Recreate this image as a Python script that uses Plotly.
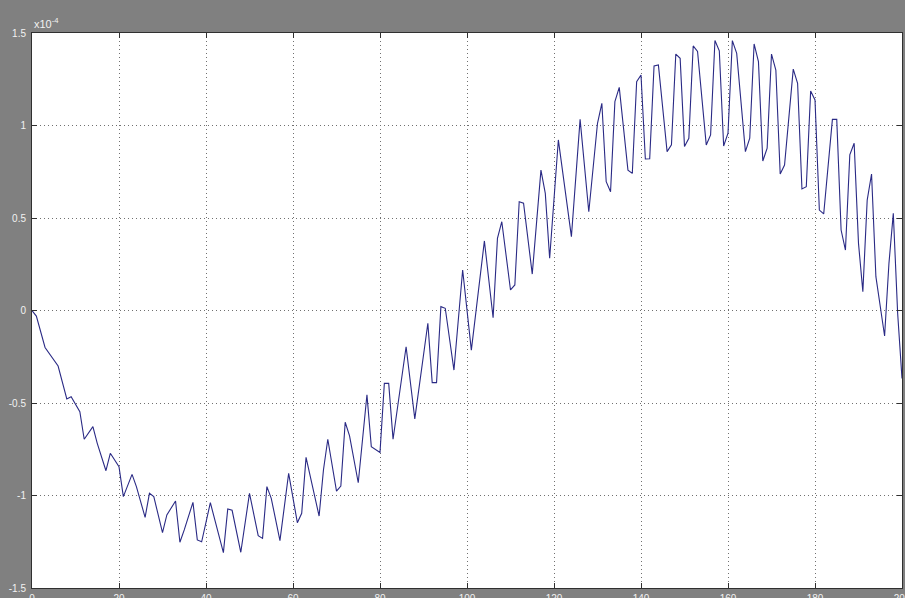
import plotly.graph_objects as go

# Sample index (x) and signal value in units of 1e-4 (y)
x_vals = [0, 1, 3, 6, 8, 9, 11, 12, 14, 15, 17, 18, 20, 21, 23, 24, 26, 27, 28, 30,
          31, 33, 34, 35, 37, 38, 39, 41, 44, 45, 46, 48, 50, 52, 53, 54, 55, 57, 59, 61,
          62, 63, 66, 67, 68, 70, 71, 72, 73, 75, 77, 78, 80, 81, 82, 83, 86, 88, 91, 92,
          93, 94, 95, 97, 99, 101, 104, 106, 107, 108, 110, 111, 112, 113, 115, 117, 118, 119, 121, 124,
          126, 128, 130, 131, 132, 133, 134, 135, 137, 138, 139, 140, 141, 142, 143, 144, 146, 147, 148, 149,
          150, 151, 152, 153, 155, 156, 157, 158, 159, 160, 161, 162, 164, 165, 166, 167, 168, 169, 170, 171,
          172, 173, 175, 176, 177, 178, 179, 180, 181, 182, 184, 185, 186, 187, 188, 189, 190, 191, 192, 193,
          194, 196, 197, 198, 199, 200]
y_vals = [0.0, -0.03, -0.20, -0.30, -0.478, -0.466, -0.547, -0.696, -0.628, -0.718, -0.866, -0.772, -0.844, -1.006, -0.886, -0.952, -1.118, -0.988, -1.006, -1.201,
          -1.105, -1.03, -1.253, -1.186, -1.037, -1.24, -1.25, -1.039, -1.309, -1.073, -1.08, -1.307, -0.988, -1.217, -1.232, -0.952, -1.015, -1.244, -0.880, -1.147,
          -1.096, -0.794, -1.111, -0.862, -0.696, -0.976, -0.949, -0.604, -0.678, -0.931, -0.455, -0.736, -0.767, -0.394, -0.394, -0.696, -0.196, -0.586, -0.069, -0.39,
          -0.39, 0.021, 0.012, -0.322, 0.219, -0.214, 0.376, -0.039, 0.39, 0.48, 0.111, 0.138, 0.588, 0.58, 0.197, 0.759, 0.633, 0.282, 0.922, 0.399,
          1.033, 0.534, 1.012, 1.12, 0.696, 0.642, 1.129, 1.206, 0.759, 0.741, 1.237, 1.273, 0.819, 0.82, 1.322, 1.327, 0.859, 0.895, 1.386, 1.363,
          0.886, 0.931, 1.43, 1.40, 0.895, 0.949, 1.459, 1.404, 0.889, 0.958, 1.459, 1.39, 0.859, 0.931, 1.441, 1.345, 0.808, 0.877, 1.386, 1.30,
          0.738, 0.786, 1.305, 1.228, 0.657, 0.669, 1.186, 1.138, 0.543, 0.522, 1.033, 1.033, 0.435, 0.327, 0.841, 0.904, 0.363, 0.102, 0.597, 0.738,
          0.183, -0.138, 0.255, 0.525, -0.015, -0.367]

x_ticks = [0, 20, 40, 60, 80, 100, 120, 140, 160, 180, 200]
x_tick_labels = ["0", "20", "40", "60", "80", "100", "120", "140", "160", "180", "200"]
y_ticks = [-1.5, -1, -0.5, 0, 0.5, 1, 1.5]
y_tick_labels = ["-1.5", "-1", "-0.5", "0", "0.5", "1", "1.5"]

fig = go.Figure()
fig.add_trace(go.Scatter(x=x_vals, y=y_vals, mode="lines",
                         line=dict(color="#2a2a85", width=1.1), showlegend=False))

axis_common = dict(
    automargin=False,
    showgrid=True, gridcolor="#707070", griddash="1px,3px", gridwidth=1,
    showline=True, linecolor="#303030", linewidth=1, mirror="allticks",
    ticks="inside", ticklen=5, tickcolor="#303030",
    zeroline=False, ticklabeloverflow="allow",
    tickfont=dict(family="Liberation Sans, Arial, sans-serif", size=10, color="#f2f2f2"),
)

fig.update_xaxes(range=[0, 200], tickmode="array", tickvals=x_ticks, ticktext=x_tick_labels,
                 ticklabelstandoff=1, **axis_common)
fig.update_yaxes(range=[-1.5, 1.5], tickmode="array", tickvals=y_ticks, ticktext=y_tick_labels,
                 ticklabelstandoff=3, **axis_common)

fig.add_annotation(text="x10<sup>-4</sup>", xref="paper", yref="paper", x=0, y=1,
                   xanchor="left", yanchor="bottom", showarrow=False, xshift=0, yshift=1,
                   font=dict(family="Liberation Sans, Arial, sans-serif", size=11, color="#f2f2f2"))

fig.update_layout(
    width=905, height=598, autosize=False,
    margin=dict(l=32, r=3, t=33, b=10, autoexpand=False),
    paper_bgcolor="#808080", plot_bgcolor="#ffffff",
)

fig.write_html("out.html", config={"responsive": False, "displayModeBar": False},
               post_script="document.body.style.margin='0';document.body.style.overflow='hidden';")
